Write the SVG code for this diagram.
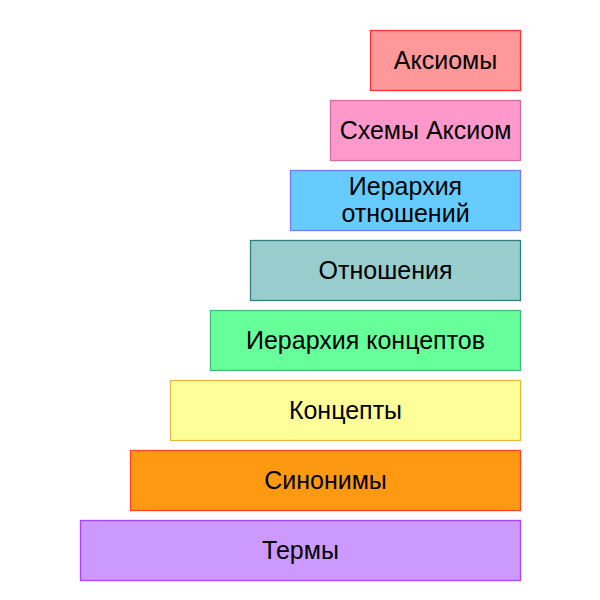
<svg xmlns="http://www.w3.org/2000/svg" width="600" height="600" viewBox="0 0 600 600">
<style>
rect{stroke-width:1.3}
text{font-family:"Liberation Sans",Arial,sans-serif;font-size:25px;fill:#000;text-anchor:middle}
</style>
<rect x="0" y="0" width="600" height="600" fill="#fff" stroke="none"/>
<g id="axioms"><rect x="370.5" y="30.5" width="150" height="60" fill="#ff9999" stroke="#ff3333"/><text x="445.5" y="69">Аксиомы</text></g>
<g id="axiom-schemes"><rect x="330.5" y="100.5" width="190" height="60" fill="#ff99cc" stroke="#d76aa0"/><text x="425.5" y="139">Схемы Аксиом</text></g>
<g id="relation-hierarchy"><rect x="290.5" y="170.5" width="230" height="60" fill="#66ccff" stroke="#7777ff"/><text x="405.5" y="195">Иерархия</text><text x="405.5" y="222">отношений</text></g>
<g id="relations"><rect x="250.5" y="240.5" width="270" height="60" fill="#99cccc" stroke="#2e8080"/><text x="385.5" y="279">Отношения</text></g>
<g id="concept-hierarchy"><rect x="210.5" y="310.5" width="310" height="60" fill="#66ff99" stroke="#3dbb80"/><text x="365.5" y="349">Иерархия концептов</text></g>
<g id="concepts"><rect x="170.5" y="380.5" width="350" height="60" fill="#ffff99" stroke="#e6b93c"/><text x="345.5" y="419">Концепты</text></g>
<g id="synonyms"><rect x="130.5" y="450.5" width="390" height="60" fill="#ff9911" stroke="#ff4422"/><text x="325.5" y="489">Синонимы</text></g>
<g id="terms"><rect x="80.5" y="520.5" width="440" height="60" fill="#cc99ff" stroke="#aa44ff"/><text x="300.5" y="559">Термы</text></g>
<g id="connectors"></g>
</svg>
